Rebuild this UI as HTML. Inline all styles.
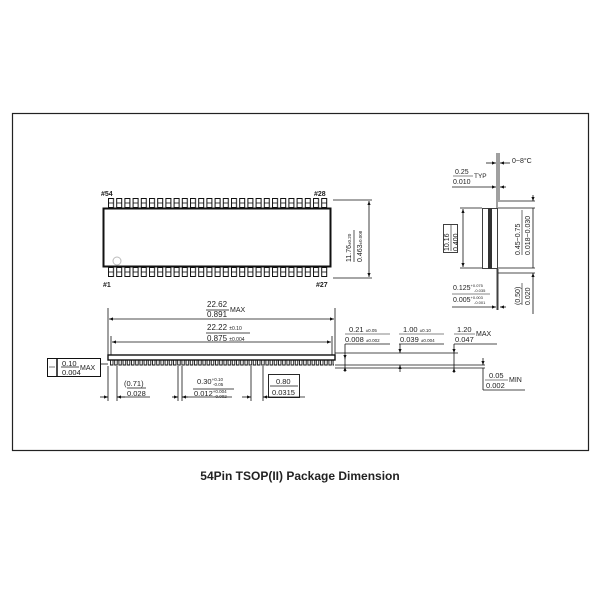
<!DOCTYPE html>
<html><head><style>
body{margin:0;background:#fff;width:600px;height:600px;overflow:hidden}
svg{display:block}
text{font-family:"Liberation Sans",sans-serif;fill:#222}
</style></head><body>
<svg width="600" height="600" viewBox="0 0 600 600">
<defs>
<marker id="a" viewBox="0 0 10 10" refX="10" refY="5" markerWidth="5" markerHeight="5" orient="auto-start-reverse"><path d="M0,1 L10,5 L0,9z" fill="#111"/></marker>
<pattern id="tp" x="108" y="198" width="8.2" height="10" patternUnits="userSpaceOnUse"><rect x="0.5" y="0.5" width="5" height="9" fill="none" stroke="#111" stroke-width="1"/><line x1="0.5" y1="5" x2="5.5" y2="5" stroke="#111" stroke-width="0.8"/></pattern>
<pattern id="bp" x="108" y="267" width="8.2" height="10" patternUnits="userSpaceOnUse"><rect x="0.5" y="0.5" width="5" height="9" fill="none" stroke="#111" stroke-width="1"/><line x1="0.5" y1="5" x2="5.5" y2="5" stroke="#111" stroke-width="0.8"/></pattern>
<pattern id="sp" x="110" y="360" width="4.2" height="6" patternUnits="userSpaceOnUse"><path d="M0.5,0 V5 H3 V0" fill="none" stroke="#111" stroke-width="0.9"/></pattern>
</defs>
<rect x="12.5" y="113.5" width="576" height="337" fill="none" stroke="#222" stroke-width="1.2"/>
<!-- top view -->
<rect x="108" y="198" width="221" height="10" fill="url(#tp)"/>
<rect x="108" y="267" width="221" height="10" fill="url(#bp)"/>
<rect x="103.5" y="208.5" width="227" height="58" fill="none" stroke="#111" stroke-width="2"/>
<circle cx="117" cy="261" r="4" fill="none" stroke="#bbb"/>
<text x="101" y="196" font-size="7" font-weight="bold">#54</text>
<text x="314" y="196" font-size="7" font-weight="bold">#28</text>
<text x="103" y="287" font-size="7" font-weight="bold">#1</text>
<text x="316" y="287" font-size="7" font-weight="bold">#27</text>
<g stroke="#111" stroke-width="0.8"><line x1="333" y1="200" x2="372" y2="200"/><line x1="333" y1="278" x2="372" y2="278"/></g>
<line x1="369" y1="201" x2="369" y2="277" stroke="#111" stroke-width="0.8" marker-start="url(#a)" marker-end="url(#a)"/>
<g transform="translate(351,262) rotate(-90)"><text font-size="7">11.76<tspan font-size="4.5">±0.20</tspan></text><line x1="0" y1="3" x2="32" y2="3" stroke="#111" stroke-width="0.7"/><text y="11" font-size="7">0.463<tspan font-size="4.5">±0.008</tspan></text></g>
<!-- side view -->
<rect x="108" y="355" width="227" height="5" fill="none" stroke="#111" stroke-width="1.4"/>
<rect x="110" y="360" width="224" height="6" fill="url(#sp)"/>
<g stroke="#111" stroke-width="0.8">
<line x1="108" y1="308" x2="108" y2="355"/><line x1="335" y1="308" x2="335" y2="355"/>
<line x1="111" y1="336" x2="111" y2="355"/><line x1="332" y1="336" x2="332" y2="355"/>
<line x1="335" y1="353" x2="458" y2="353"/><line x1="335" y1="365" x2="485" y2="365"/><line x1="335" y1="368" x2="485" y2="368"/>
<line x1="100" y1="364" x2="108" y2="364"/>
</g>
<line x1="109" y1="319" x2="334" y2="319" stroke="#111" stroke-width="0.8" marker-start="url(#a)" marker-end="url(#a)"/>
<line x1="112" y1="342" x2="331" y2="342" stroke="#111" stroke-width="0.8" marker-start="url(#a)" marker-end="url(#a)"/>
<text x="207" y="307" font-size="8">22.62</text><line x1="206" y1="310" x2="229" y2="310" stroke="#111" stroke-width="0.7"/><text x="207" y="317" font-size="8">0.891</text><text x="230" y="312" font-size="7">MAX</text>
<text x="207" y="330" font-size="8">22.22 <tspan font-size="5">±0.10</tspan></text><line x1="206" y1="333" x2="250" y2="333" stroke="#111" stroke-width="0.7"/><text x="207" y="341" font-size="8">0.875 <tspan font-size="5">±0.004</tspan></text>
<!-- 0.10 box -->
<rect x="47.5" y="358.5" width="53" height="18" fill="none" stroke="#111" stroke-width="1"/>
<line x1="57" y1="358" x2="57" y2="377" stroke="#111" stroke-width="1.5"/><line x1="49" y1="367" x2="55" y2="367" stroke="#555" stroke-width="0.8"/>
<text x="62" y="366" font-size="7.5">0.10</text><line x1="61" y1="367" x2="79" y2="367" stroke="#111" stroke-width="0.7"/><text x="62" y="375" font-size="7.5">0.004</text><text x="80" y="370" font-size="7">MAX</text>
<!-- pitch dims -->
<g stroke="#111" stroke-width="0.8">
<line x1="108" y1="366" x2="108" y2="401"/><line x1="117" y1="366" x2="117" y2="401"/>
<line x1="178" y1="366" x2="178" y2="401"/><line x1="182" y1="366" x2="182" y2="401"/>
<line x1="251" y1="366" x2="251" y2="401"/><line x1="263" y1="366" x2="263" y2="401"/>
<line x1="100" y1="397" x2="108" y2="397" marker-end="url(#a)"/><line x1="125" y1="397" x2="117" y2="397" marker-end="url(#a)"/><line x1="117" y1="397" x2="150" y2="397"/>
<line x1="172" y1="397" x2="178" y2="397" marker-end="url(#a)"/><line x1="188" y1="397" x2="182" y2="397" marker-end="url(#a)"/><line x1="182" y1="397" x2="232" y2="397"/>
<line x1="242" y1="397" x2="251" y2="397" marker-end="url(#a)"/><line x1="270" y1="397" x2="263" y2="397" marker-end="url(#a)"/><line x1="263" y1="397" x2="305" y2="397"/>
</g>
<text x="124" y="386" font-size="7.5">(0.71)</text><line x1="127" y1="388" x2="146" y2="388" stroke="#111" stroke-width="0.7"/><text x="127" y="396" font-size="7.5">0.028</text>
<text x="197" y="384" font-size="7.5">0.30<tspan font-size="4.5" dy="-3">+0.10</tspan><tspan font-size="4.5" x="213" dy="5">-0.05</tspan></text><line x1="193" y1="389" x2="234" y2="389" stroke="#111" stroke-width="0.7"/><text x="194" y="396" font-size="7.5">0.012<tspan font-size="4.5" dy="-3">+0.004</tspan><tspan font-size="4.5" x="214" dy="5">-0.002</tspan></text>
<rect x="268.5" y="374.5" width="31" height="23" fill="none" stroke="#111" stroke-width="0.9"/>
<text x="276" y="384" font-size="7.5">0.80</text><line x1="270" y1="386" x2="298" y2="386" stroke="#111" stroke-width="0.7"/><text x="272" y="395" font-size="7.5">0.0315</text>
<!-- right dims -->
<g stroke="#111" stroke-width="0.8">
<line x1="345" y1="344" x2="390" y2="344"/><line x1="345" y1="344" x2="345" y2="359" marker-end="url(#a)"/><line x1="345" y1="372" x2="345" y2="367" marker-end="url(#a)"/><line x1="345" y1="355" x2="345" y2="367"/>
<line x1="399" y1="344" x2="444" y2="344"/><line x1="400" y1="344" x2="400" y2="353" marker-end="url(#a)"/><line x1="400" y1="372" x2="400" y2="365" marker-end="url(#a)"/>
<line x1="454" y1="344" x2="497" y2="344"/><line x1="454" y1="344" x2="454" y2="353" marker-end="url(#a)"/><line x1="454" y1="373" x2="454" y2="368" marker-end="url(#a)"/><line x1="454" y1="353" x2="454" y2="368"/>
<line x1="483" y1="358" x2="483" y2="365" marker-end="url(#a)"/><line x1="483" y1="368" x2="483" y2="390"/><line x1="483" y1="390" x2="525" y2="390"/>
</g>
<text x="349" y="332" font-size="7.5">0.21 <tspan font-size="4.5">±0.05</tspan></text><line x1="345" y1="334" x2="390" y2="334" stroke="#111" stroke-width="0.6"/><text x="345" y="342" font-size="7.5">0.008 <tspan font-size="4.5">±0.002</tspan></text>
<text x="403" y="332" font-size="7.5">1.00 <tspan font-size="4.5">±0.10</tspan></text><line x1="399" y1="334" x2="444" y2="334" stroke="#111" stroke-width="0.6"/><text x="400" y="342" font-size="7.5">0.039 <tspan font-size="4.5">±0.004</tspan></text>
<text x="457" y="332" font-size="7.5">1.20</text><line x1="454" y1="334" x2="475" y2="334" stroke="#111" stroke-width="0.6"/><text x="455" y="342" font-size="7.5">0.047</text><text x="476" y="336" font-size="7">MAX</text>
<text x="489" y="378" font-size="7.5">0.05</text><line x1="485" y1="380" x2="508" y2="380" stroke="#111" stroke-width="0.6"/><text x="486" y="388" font-size="7.5">0.002</text><text x="509" y="382" font-size="7">MIN</text>
<!-- end view -->
<rect x="482.5" y="208.5" width="15" height="60" fill="none" stroke="#111" stroke-width="0.8"/>
<rect x="488" y="208" width="4" height="61" fill="#333"/>
<g stroke="#111" stroke-width="0.8">
<line x1="497" y1="153" x2="497" y2="208"/><line x1="499" y1="153" x2="499" y2="200"/>
<line x1="497" y1="269" x2="497" y2="310"/><line x1="498" y1="269" x2="498" y2="310"/>
<line x1="460" y1="208" x2="482" y2="208"/><line x1="460" y1="268" x2="482" y2="268"/>
<line x1="498" y1="201" x2="535" y2="201"/><line x1="498" y1="208" x2="535" y2="208"/><line x1="498" y1="268" x2="535" y2="268"/><line x1="498" y1="273" x2="535" y2="273"/>
<line x1="533" y1="195" x2="533" y2="201" marker-end="url(#a)"/><line x1="533" y1="314" x2="533" y2="273" marker-end="url(#a)"/>
<line x1="533" y1="208" x2="533" y2="268"/>
<line x1="486" y1="163" x2="496" y2="163" marker-end="url(#a)"/><line x1="510" y1="163" x2="500" y2="163" marker-end="url(#a)"/>
<line x1="452" y1="187" x2="496" y2="187" marker-end="url(#a)"/><line x1="506" y1="187" x2="500" y2="187" marker-end="url(#a)"/>
<line x1="452" y1="307" x2="496" y2="307" marker-end="url(#a)"/><line x1="506" y1="307" x2="500" y2="307" marker-end="url(#a)"/>
</g>
<line x1="463" y1="209" x2="463" y2="267" stroke="#111" stroke-width="0.8" marker-start="url(#a)" marker-end="url(#a)"/>
<rect x="443.5" y="224.5" width="14" height="28" fill="none" stroke="#111" stroke-width="0.8"/>
<g transform="translate(449,251) rotate(-90)"><text font-size="7">10.16</text><line x1="0" y1="2" x2="26" y2="2" stroke="#111" stroke-width="0.6"/><text y="9" font-size="7">0.400</text></g>
<g transform="translate(520,255) rotate(-90)"><text font-size="7">0.45~0.75</text><line x1="0" y1="2" x2="45" y2="2" stroke="#111" stroke-width="0.6"/><text y="10" font-size="7">0.018~0.030</text></g>
<g transform="translate(520,305) rotate(-90)"><text font-size="7">(0.50)</text><line x1="0" y1="2" x2="22" y2="2" stroke="#111" stroke-width="0.6"/><text y="10" font-size="7">0.020</text></g>
<text x="455" y="174" font-size="7">0.25</text><line x1="453" y1="176" x2="473" y2="176" stroke="#111" stroke-width="0.6"/><text x="453" y="184" font-size="7">0.010</text><text x="474" y="178" font-size="6.5">TYP</text>
<text x="512" y="163" font-size="7">0~8°C</text>
<text x="453" y="290" font-size="7">0.125<tspan font-size="4" dy="-3">+0.075</tspan><tspan font-size="4" x="474" dy="5">-0.035</tspan></text><line x1="452" y1="294" x2="490" y2="294" stroke="#111" stroke-width="0.6"/><text x="453" y="302" font-size="7">0.005<tspan font-size="4" dy="-3">+0.003</tspan><tspan font-size="4" x="474" dy="5">-0.001</tspan></text>
<text x="300" y="480" font-size="12" font-weight="bold" text-anchor="middle">54Pin TSOP(II) Package Dimension</text>
</svg>
</body></html>
